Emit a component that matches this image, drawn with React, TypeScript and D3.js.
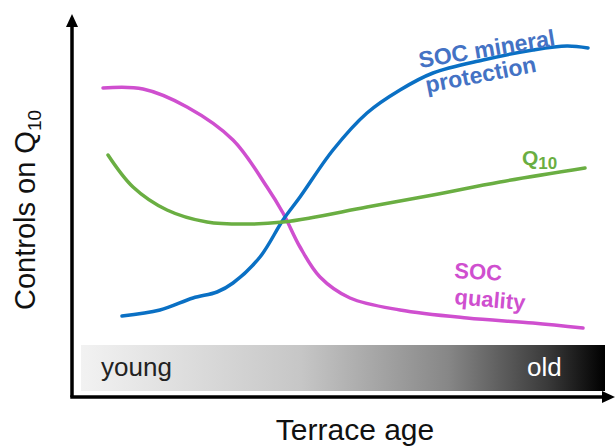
import React from 'react'
import * as d3 from 'd3'

// conceptual curves, arbitrary units (age along x, control strength along y)
const qualityAge = [31, 71, 115, 161, 195, 211, 228, 248, 278, 328, 395, 461, 511]
const qualityVal = [309, 308, 290, 257, 210, 184, 150, 120, 99, 87, 79, 74, 69]

const mineralAge = [50, 88, 121, 145, 161, 188, 211, 228, 261, 295, 328, 361, 411, 461, 495, 516]
const mineralVal = [81, 87, 99, 105, 114, 140, 177, 200, 247, 284, 307, 324, 337, 347, 351, 349]

const q10Age = [36, 61, 95, 135, 178, 211, 238, 295, 361, 428, 513]
const q10Val = [242, 210, 187, 175, 173, 175, 179, 190, 202, 215, 229]

const ageLabels = ['young', 'old']

const W = 616
const H = 446
const FONT = 'Arial, "Liberation Sans", sans-serif'

const zip = (xs: number[], ys: number[]) => xs.map((x, i) => [x, ys[i]] as [number, number])

export default function App() {
  const x = d3.scaleLinear().domain([0, 540]).range([72, 612])
  const y = d3.scaleLinear().domain([0, 383]).range([397, 14])

  const line = d3
    .line<[number, number]>()
    .x(d => x(d[0]))
    .y(d => y(d[1]))
    .curve(d3.curveCatmullRom.alpha(0.5))

  const series = [
    { key: 'quality', color: '#cf4fcf', pts: zip(qualityAge, qualityVal) },
    { key: 'mineral', color: '#0a70c4', pts: zip(mineralAge, mineralVal) },
    { key: 'q10', color: '#6aae42', pts: zip(q10Age, q10Val) }
  ]

  const x0 = x(0)
  const y0 = y(0)
  const barX0 = x(9)
  const barX1 = x(533)

  return (
    <svg width={W} height={H} style={{ position: 'absolute', left: 0, top: 0 }} fontFamily={FONT}>
      <defs>
        <linearGradient id="ageGrad" x1="0" x2="1" y1="0" y2="0">
          <stop offset="0" stopColor="#f2f2f2" />
          <stop offset="0.42" stopColor="#c6c6c6" />
          <stop offset="0.7" stopColor="#878787" />
          <stop offset="0.89" stopColor="#3a3a3a" />
          <stop offset="1" stopColor="#000" />
        </linearGradient>
      </defs>

      {/* age bar */}
      <rect x={barX0} y={345} width={barX1 - barX0} height={46} fill="url(#ageGrad)" />
      <text x={101} y={376} fontSize={26} fill="#222">{ageLabels[0]}</text>
      <text x={527} y={376} fontSize={26} fill="#fff">{ageLabels[1]}</text>

      {/* axes */}
      <path d={`M${x0},${y0}V${y(372)}`} stroke="#000" strokeWidth={3.5} fill="none" />
      <path d={`M${x0 - 1.75},${y0}H${x(531)}`} stroke="#000" strokeWidth={3.5} fill="none" />
      <path d={`M${x0},${y(383)}L${x0 - 6},${y(370)}L${x0 + 6},${y(370)}Z`} fill="#000" />
      <path d={`M${x(543)},${y0}L${x(530)},${y0 - 6}L${x(530)},${y0 + 6}Z`} fill="#000" />

      {/* curves */}
      {series.map(s => (
        <path key={s.key} d={line(s.pts) || ''} fill="none" stroke={s.color} strokeWidth={3.5} strokeLinecap="round" />
      ))}

      {/* curve labels */}
      <g fontWeight="bold" fontSize={23}>
        <text transform="translate(420,68) rotate(-9.5)" fill="#4472c4">SOC mineral</text>
        <text transform="translate(427,93) rotate(-11)" fill="#4472c4">protection</text>
        <text transform="translate(454,278) rotate(3)" fill="#cf4fcf" fontSize={22}>SOC</text>
        <text transform="translate(454,304) rotate(5)" fill="#cf4fcf" fontSize={22}>quality</text>
        <text x={522} y={165} fill="#6aae42" fontSize={21}>
          Q<tspan fontSize={17} dy={4}>10</tspan>
        </text>
      </g>

      {/* axis titles */}
      <text x={355} y={440} fontSize={30} textAnchor="middle" fill="#111">Terrace age</text>
      <text transform="translate(35,310) rotate(-90)" fontSize={29} fill="#111">
        Controls on Q<tspan fontSize={19} dy={6}>10</tspan>
      </text>
    </svg>
  )
}
